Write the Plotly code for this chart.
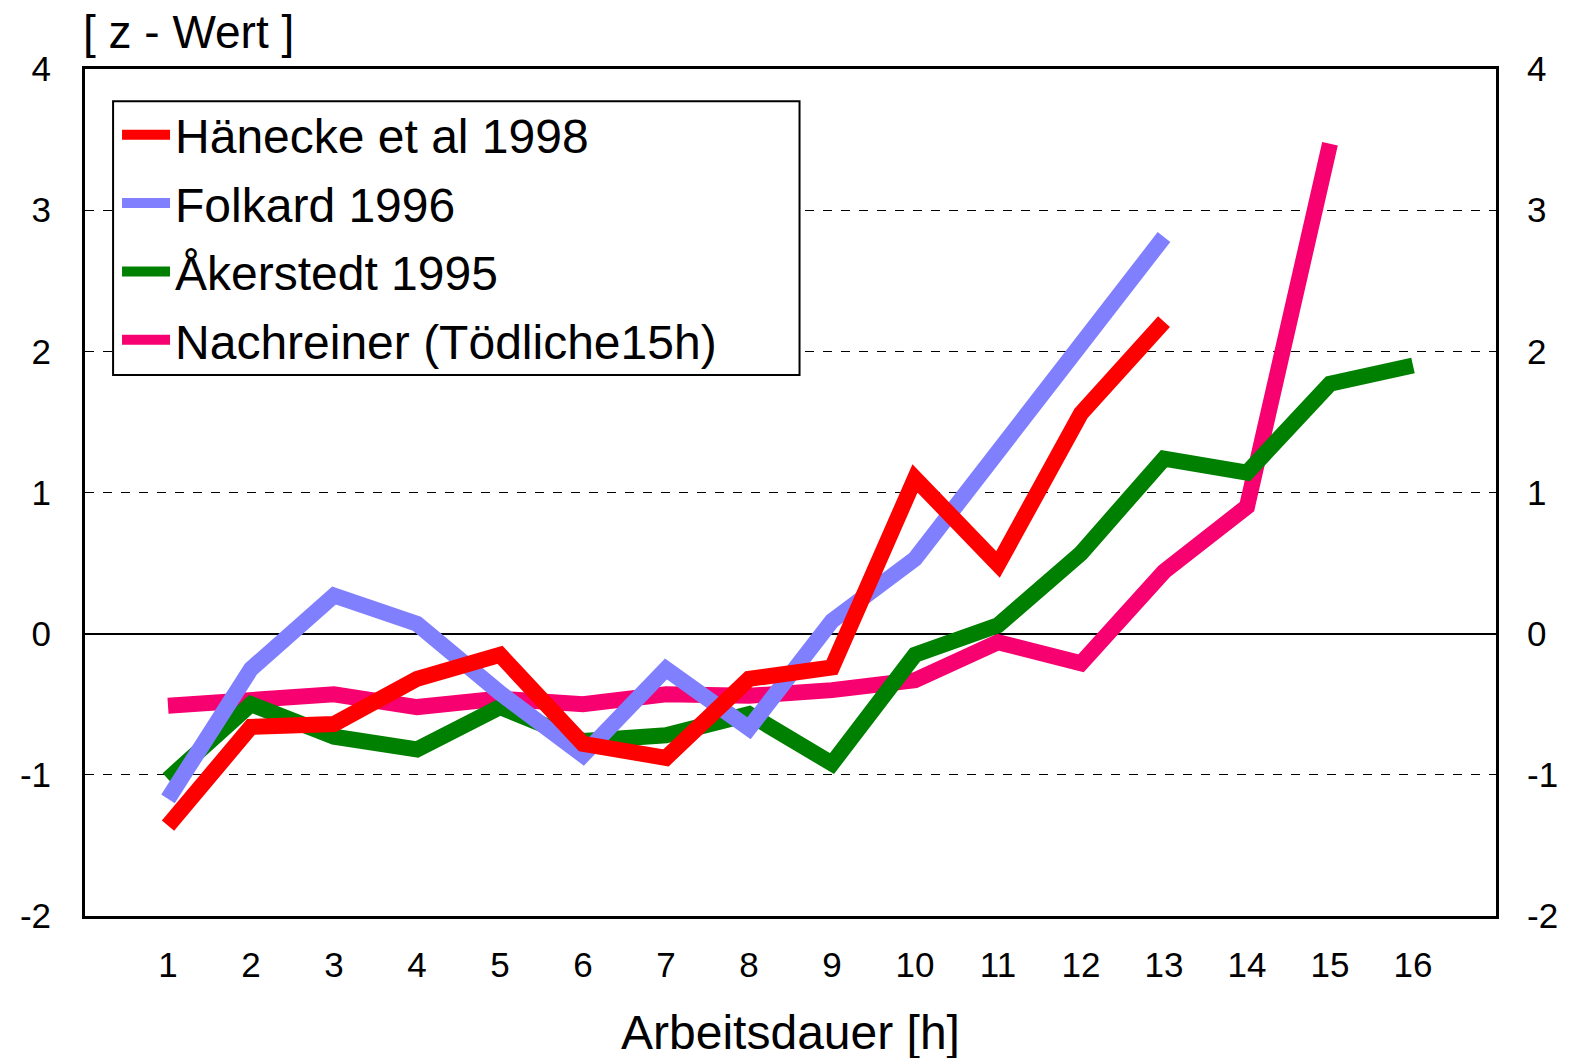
import plotly.graph_objects as go

hours = list(range(1, 17))
x_ticks = [str(h) for h in hours]
z_vals = [-2, -1, 0, 1, 2, 3, 4]
z_ticks = ["-2", "-1", "0", "1", "2", "3", "4"]

haenecke = [-1.36, -0.66, -0.64, -0.32, -0.15, -0.78, -0.88, -0.32, -0.24, 1.10, 0.49, 1.56, 2.21,
            None, None, None]
folkard = [-1.17, -0.25, 0.27, 0.07, -0.42, -0.86, -0.25, -0.67, 0.09, 0.53, 1.29, 2.05, 2.81,
           None, None, None]
akerstedt = [-1.03, -0.50, -0.73, -0.82, -0.52, -0.76, -0.72, -0.57, -0.92, -0.15, 0.06, 0.57, 1.24,
             1.14, 1.77, 1.90]
nachreiner = [-0.51, -0.47, -0.43, -0.52, -0.46, -0.50, -0.43, -0.44, -0.40, -0.33, -0.06, -0.21, 0.44,
              0.90, 3.47, None]

# drawing order (last on top), legend rank
series = [
    ("Nachreiner (Tödliche15h)", nachreiner, "#F7006F", 4),
    ("Åkerstedt 1995", akerstedt, "#008000", 3),
    ("Folkard 1996", folkard, "#8080FF", 2),
    ("Hänecke et al 1998", haenecke, "#FF0000", 1),
]

FONT = "Liberation Sans, Arial, sans-serif"

fig = go.Figure()

for name, vals, color, rank in series:
    fig.add_trace(go.Scatter(
        x=hours,
        y=vals,
        mode="lines",
        name=name,
        legendgroup=name,
        legendrank=rank,
        line=dict(color=color, width=16),
        connectgaps=False,
        hoverinfo="skip"
    ))

# invisible copy so the right-hand axis gets drawn
fig.add_trace(go.Scatter(
    x=hours, y=akerstedt, yaxis="y2", mode="lines",
    line=dict(color="rgba(0,0,0,0)", width=0),
    showlegend=False, hoverinfo="skip"
))

# legend frame (white box hides the gridlines behind it)
fig.add_shape(
    type="rect", xref="paper", yref="paper",
    x0=0.0199, x1=0.5064, y0=0.6386, y1=0.962,
    line=dict(color="black", width=2),
    fillcolor="white",
    layer="above"
)

fig.add_annotation(
    text="[ z - Wert ]",
    xref="paper", yref="paper",
    x=0, y=1, xanchor="left", yanchor="bottom",
    xshift=-3, yshift=10,
    showarrow=False,
    borderpad=0,
    font=dict(family=FONT, size=46, color="black")
)

fig.update_layout(
    width=1572, height=1058,
    margin=dict(l=77, r=84, t=61, b=150),
    paper_bgcolor="white",
    plot_bgcolor="white",
    font=dict(family=FONT, color="black"),
    showlegend=True,
    legend=dict(
        x=0.0227, y=0.967, xanchor="left", yanchor="top",
        traceorder="grouped",
        tracegroupgap=3,
        bgcolor="rgba(0,0,0,0)",
        borderwidth=0,
        font=dict(family=FONT, size=48, color="black"),
        itemwidth=48
    ),
    xaxis=dict(
        range=[0, 17],
        tickvals=hours,
        ticktext=x_ticks,
        showgrid=False,
        zeroline=False,
        automargin=False,
        showline=True, linecolor="black", linewidth=3, mirror=True,
        ticks="",
        ticklabelstandoff=16,
        tickfont=dict(family=FONT, size=35),
        title=dict(text="Arbeitsdauer [h]", font=dict(family=FONT, size=48), standoff=33)
    ),
    yaxis=dict(
        range=[-2, 4],
        tickvals=z_vals,
        ticktext=z_ticks,
        automargin=False,
        showgrid=True, gridcolor="black", gridwidth=1, griddash="dash",
        zeroline=True, zerolinecolor="black", zerolinewidth=2,
        showline=True, linecolor="black", linewidth=3, mirror=True,
        ticks="",
        ticklabelstandoff=24,
        tickfont=dict(family=FONT, size=35)
    ),
    yaxis2=dict(
        range=[-2, 4],
        tickvals=z_vals,
        ticktext=z_ticks,
        overlaying="y",
        side="right",
        automargin=False,
        showgrid=False,
        zeroline=False,
        ticks="",
        ticklabelstandoff=30,
        tickfont=dict(family=FONT, size=35)
    )
)

fig.write_html("out.html")
